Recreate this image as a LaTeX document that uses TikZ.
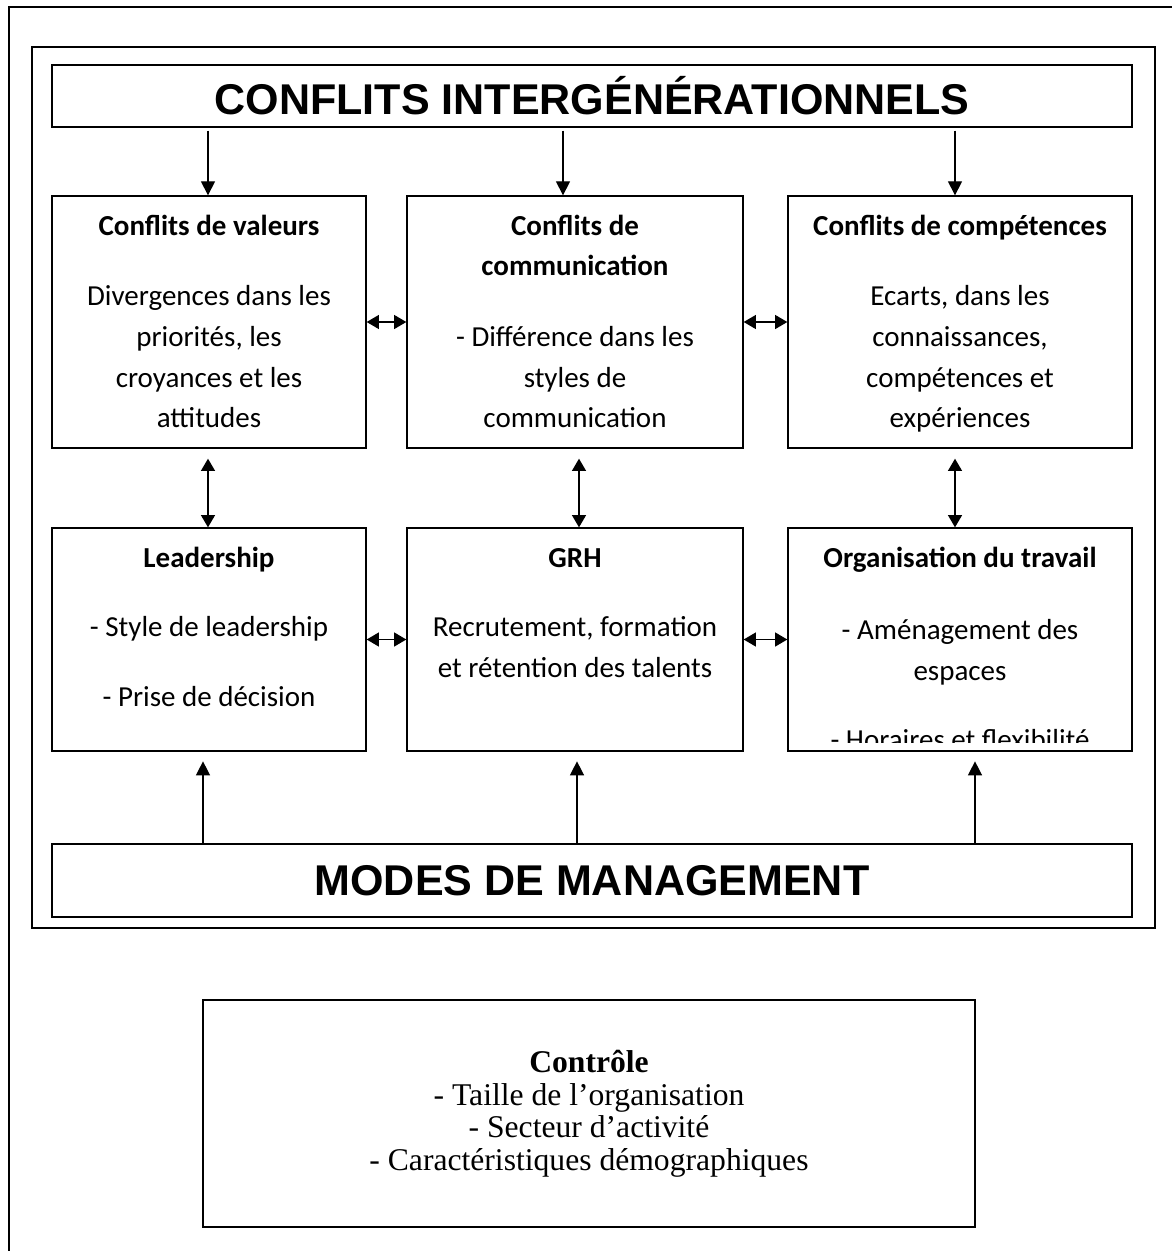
\documentclass[tikz,border=0pt]{standalone}
\usepackage{fontspec}
\setmainfont{Liberation Serif}
\newfontfamily\calibrifont{Carlito}
\newfontfamily\arialfont{Liberation Sans}
\usetikzlibrary{arrows.meta,calc,positioning}

\tikzset{
	cadre/.style={draw, line width=0.8pt, inner sep=0pt},
	bloc/.style={cadre, minimum height=5.04cm},
	bas/.style={cadre, minimum height=4.46cm},
	grand/.style={cadre, minimum width=21.6cm, font=\arialfont\bfseries\fontsize{24.5}{28}\selectfont},
	texte/.style={anchor=north, inner sep=0pt, align=center, font=\calibrifont\fontsize{16.5}{23.25}\selectfont},
	fleche/.style={line width=0.8pt, -{Triangle[length=8pt, width=8pt]}},
	dfleche/.style={line width=0.8pt, {Triangle[length=7pt, width=8pt]}-{Triangle[length=7pt, width=8pt]}}
}

\begin{document}
\begin{tikzpicture}[x=0.02cm, y=-0.02cm]
	%%%%% START %%%%%
	\useasboundingbox (0,0) rectangle (1172,1251);
	
	\draw[line width=0.6pt] (1172,7) -- (9,7) -- (9,1251);
	\draw[line width=0.8pt] (32,47) rectangle (1155,928);
	
	\node[grand, minimum height=1.24cm] (titre) at (592,96) {CONFLITS INTERGÉNÉRATIONNELS};
	\node[grand, minimum height=1.46cm] (modes) at (592,880.5) {MODES DE MANAGEMENT};
	
	% premiere rangee
	\node[bloc, minimum width=6.28cm] (val) at (209,322) {};
	\node[bloc, minimum width=6.72cm] (com) at (575,322) {};
	\node[bloc, minimum width=6.88cm] (comp) at (960,322) {};
	
	\node[texte] (valT) at ($(val.north)+(0,19)$) {\textbf{Conflits de valeurs}\\[16.8pt] Divergences dans les\\ priorités, les\\ croyances et les\\ attitudes};
	\node[texte] (comT) at ($(com.north)+(0,19)$) {\textbf{Conflits de}\\ \textbf{communication}\\[16.8pt] - Différence dans les\\ styles de\\ communication};
	\node[texte] (compT) at ($(comp.north)+(0,19)$) {\textbf{Conflits de compétences}\\[16.8pt] Ecarts, dans les\\ connaissances,\\ compétences et\\ expériences};
	
	% deuxieme rangee
	\node[bas, minimum width=6.28cm] (lead) at (209,639.5) {};
	\node[bas, minimum width=6.72cm] (grh) at (575,639.5) {};
	\node[bas, minimum width=6.88cm] (orga) at (960,639.5) {};
	
	\node[texte] (leadT) at ($(lead.north)+(0,19)$) {\textbf{Leadership}\\[16.5pt] - Style de leadership\\[16.5pt] - Prise de décision};
	\node[texte] (grhT) at ($(grh.north)+(0,19)$) {\textbf{\vphantom{Ld}GRH}\\[16.5pt] Recrutement, formation\\ et rétention des talents};
	\begin{scope}
		\clip (orga.north west) rectangle ($(orga.south east)+(0,-9)$);
		\node[texte] (orgaT) at ($(orga.north)+(0,19)$) {\textbf{Organisation du travail}\\[18pt] - Aménagement des\\ espaces\\[16pt] - Horaires et flexibilité};
	\end{scope}
	
	% fleches du haut
	\coordinate (h1) at ($(val.north)+(-1,0)$);
	\coordinate (h2) at ($(com.north)+(-12,0)$);
	\coordinate (h3) at ($(comp.north)+(-5,0)$);
	\draw[fleche, shorten <=1.7pt] (h1 |- titre.south) -- (h1);
	\draw[fleche, shorten <=1.7pt] (h2 |- titre.south) -- (h2);
	\draw[fleche, shorten <=1.7pt] (h3 |- titre.south) -- (h3);
	
	% liens entre les blocs
	\draw[dfleche] (val.east) -- (com.west);
	\draw[dfleche] (com.east) -- (comp.west);
	\draw[dfleche] (lead.east) -- (grh.west);
	\draw[dfleche] (grh.east) -- (orga.west);
	
	\coordinate (m1) at ($(val.south)+(-1,0)$);
	\coordinate (m2) at ($(com.south)+(4,0)$);
	\coordinate (m3) at ($(comp.south)+(-5,0)$);
	\draw[dfleche, shorten <=5.7pt] (m1) -- (m1 |- lead.north);
	\draw[dfleche, shorten <=5.7pt] (m2) -- (m2 |- grh.north);
	\draw[dfleche, shorten <=5.7pt] (m3) -- (m3 |- orga.north);
	
	% fleches du bas
	\coordinate (b1) at ($(lead.south)+(-6,0)$);
	\coordinate (b2) at ($(grh.south)+(2,0)$);
	\coordinate (b3) at ($(orga.south)+(15,0)$);
	\draw[fleche, shorten >=5.5pt] (b1 |- modes.north) -- (b1);
	\draw[fleche, shorten >=5.5pt] (b2 |- modes.north) -- (b2);
	\draw[fleche, shorten >=5.5pt] (b3 |- modes.north) -- (b3);
	
	% controle
	\node[cadre, minimum width=15.44cm, minimum height=4.54cm, align=center, font=\fontsize{18}{18.5}\selectfont] (ctrl) at (589,1113.5) {\textbf{Contrôle}\\ - Taille de l’organisation\\ - Secteur d’activité\\ - Caractéristiques démographiques};
	
	%%%%% END %%%%%
\end{tikzpicture}
\end{document}
